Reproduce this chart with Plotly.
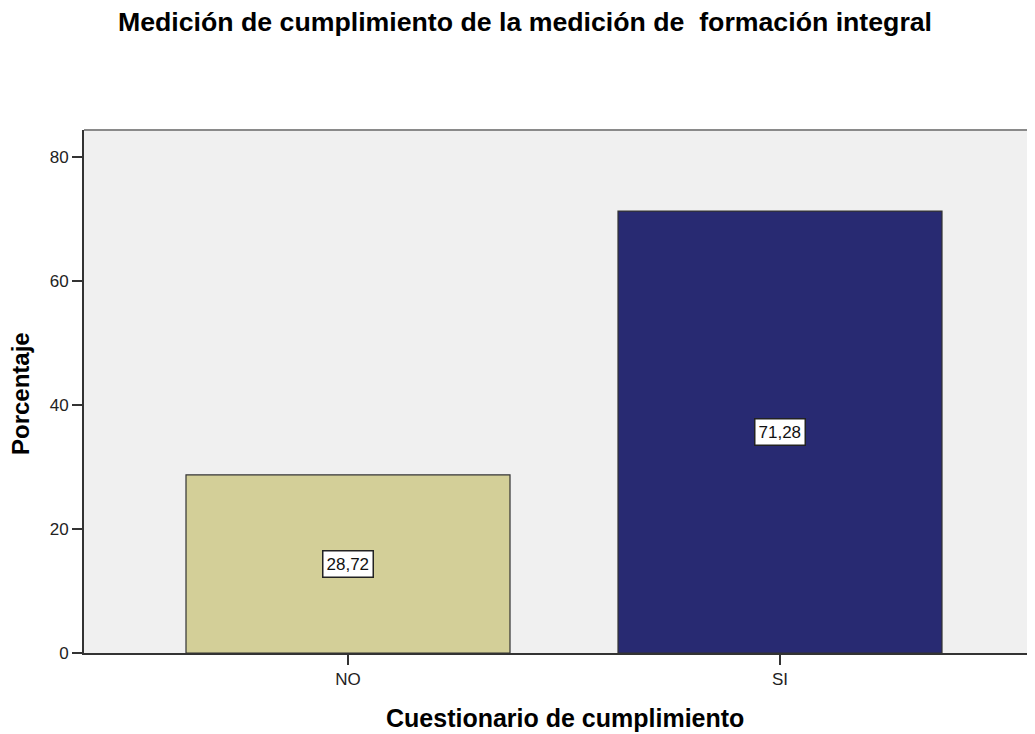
import plotly.graph_objects as go

categories = ["NO", "SI"]
values = [28.72, 71.28]
labels = ["28,72", "71,28"]
bar_colors = ["#D3CF98", "#282A72"]
y_ticks = [0, 20, 40, 60, 80]

FONT = "Liberation Sans, Arial"

fig = go.Figure()
fig.add_trace(go.Bar(
    x=[0, 1], y=values, width=0.75,
    marker=dict(color=bar_colors, line=dict(color="#333333", width=1.2)),
    showlegend=False, hoverinfo="skip",
))

for i, (v, lab) in enumerate(zip(values, labels)):
    fig.add_annotation(
        x=i, y=v / 2, xref="x", yref="y", text=lab, showarrow=False,
        font=dict(family=FONT, size=17, color="#111111"),
        bgcolor="white", bordercolor="#222222", borderwidth=1.5, borderpad=3,
    )

fig.add_shape(type="line", xref="paper", yref="paper", x0=0, x1=1, y0=1, y1=1,
              line=dict(color="#8a8a8a", width=2))

# axis titles as annotations for exact placement
fig.add_annotation(text="<b>Cuestionario de cumplimiento</b>", xref="paper", yref="paper",
                   x=(565 - 84) / 951, y=-(718 - 653) / 523, xanchor="center", yanchor="middle",
                   showarrow=False, font=dict(family=FONT, size=25, color="black"))
fig.add_annotation(text="<b>Porcentaje</b>", xref="paper", yref="paper", textangle=-90,
                   x=(20 - 84) / 951, y=(653 - 394) / 523, xanchor="center", yanchor="middle",
                   showarrow=False, font=dict(family=FONT, size=24, color="black"))

fig.update_layout(
    width=1027, height=726,
    margin=dict(l=76, r=0, t=122, b=81, pad=0),
    paper_bgcolor="white", plot_bgcolor="#F0F0F0",
    title=dict(text="<b>Medición de cumplimiento de la medición de  formación integral</b>",
               x=517 / 1027, xanchor="center", y=1 - 14 / 726, yanchor="middle",
               font=dict(family=FONT, size=26.7, color="black")),
    xaxis=dict(range=[-264 / 432, (951 - 264) / 432], tickvals=[0, 1], ticktext=categories,
               showgrid=False, zeroline=False, showline=True, linecolor="#333333", linewidth=2,
               ticks="outside", ticklen=10, tickcolor="#333333", tickwidth=1.5,
               tickfont=dict(family=FONT, size=17, color="#222222")),
    yaxis=dict(range=[0, 523 / 6.2], tickvals=y_ticks,
               showgrid=False, zeroline=False, showline=True, linecolor="#333333", linewidth=2,
               ticks="outside", ticklen=10, tickcolor="#333333", tickwidth=1.5,
               tickfont=dict(family=FONT, size=17, color="#222222")),
)

fig.write_html("out.html")
